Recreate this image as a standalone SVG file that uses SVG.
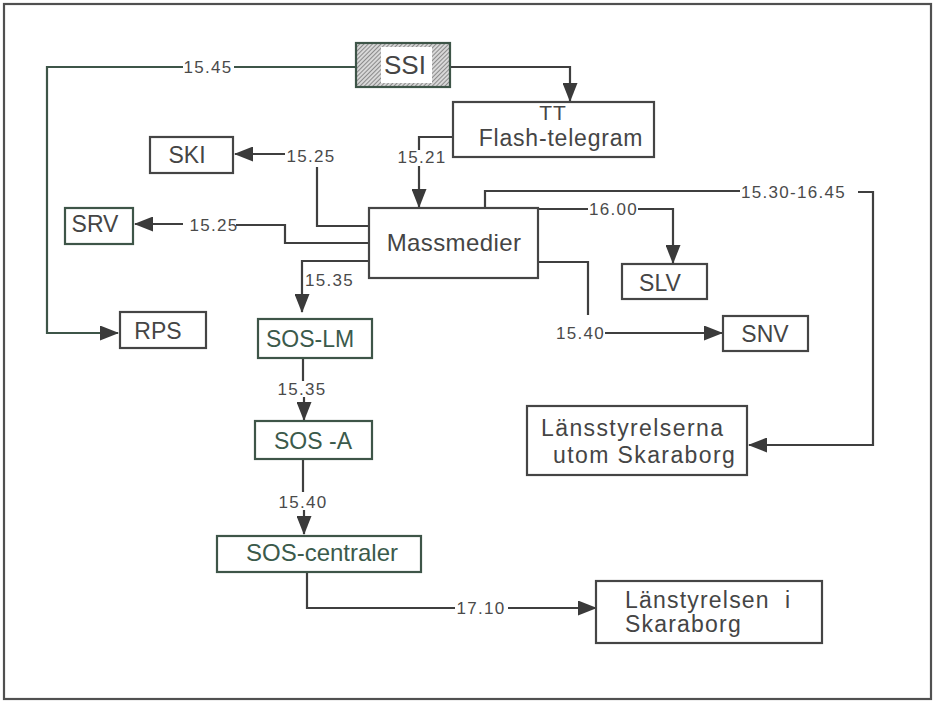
<svg xmlns="http://www.w3.org/2000/svg" width="934" height="702" viewBox="0 0 934 702">
<defs>
<pattern id="hatch" width="3" height="3" patternUnits="userSpaceOnUse" patternTransform="rotate(45)">
<rect width="3" height="3" fill="#d8d8d8"/>
<line x1="0" y1="0" x2="0" y2="3" stroke="#6a6a6a" stroke-width="1.4"/>
</pattern>
<marker id="arr" markerUnits="userSpaceOnUse" markerWidth="19" markerHeight="15" refX="18" refY="7.5" orient="auto">
<path d="M0,0 L19,7.5 L0,15 z" fill="#3a3a3a"/>
</marker>
<style>
.box{fill:#fff;stroke:#454545;stroke-width:2.2}
.gbox{fill:#fff;stroke:#3e5548;stroke-width:2.2}
.t{font-family:"Liberation Sans",Arial,sans-serif;font-size:23px;fill:#454545}
.g{fill:#3b5a4b}
.lbl{font-family:"Liberation Sans",Arial,sans-serif;font-size:17px;letter-spacing:1.3px;fill:#4a4a4a}
.c{fill:none;stroke:#3f3f3f;stroke-width:2.2}
.cg{fill:none;stroke:#3e5548;stroke-width:2.2}
</style>
</defs>
<rect width="934" height="702" fill="#fff"/>
<rect x="4" y="4" width="927" height="695" fill="none" stroke="#505050" stroke-width="2.2"/>

<g id="connectors">
<path class="cg" d="M356,67 H234"/>
<path class="cg" d="M183,67 H47 V333 H118" marker-end="url(#arr)"/>
<text class="lbl g" x="208" y="73" text-anchor="middle">15.45</text>

<path class="c" d="M450,67 H570 V101" marker-end="url(#arr)"/>

<path class="c" d="M453,137 H419 V150"/>
<path class="c" d="M419,166 V207" marker-end="url(#arr)"/>
<text class="lbl" x="422" y="163" text-anchor="middle">15.21</text>

<path class="c" d="M369,226 H317 V167"/>
<path class="c" d="M285,154 H235" marker-end="url(#arr)"/>
<text class="lbl" x="311" y="162" text-anchor="middle">15.25</text>

<path class="c" d="M369,243 H285 V225 H236"/>
<path class="c" d="M183,224 H135" marker-end="url(#arr)"/>
<text class="lbl g" x="214" y="231" text-anchor="middle">15.25</text>

<path class="c" d="M369,261 H302 V312" marker-end="url(#arr)"/>
<text class="lbl" x="305" y="286">15.35</text>

<path class="c" d="M303,358 V381"/>
<path class="c" d="M304,397 V420" marker-end="url(#arr)"/>
<text class="lbl" x="302" y="395" text-anchor="middle">15.35</text>

<path class="c" d="M303,459 V492"/>
<path class="c" d="M304,510 V534" marker-end="url(#arr)"/>
<text class="lbl" x="303" y="508" text-anchor="middle">15.40</text>

<path class="c" d="M307,572 V608 H455"/>
<path class="c" d="M508,608 H596" marker-end="url(#arr)"/>
<text class="lbl" x="481" y="614" text-anchor="middle">17.10</text>

<path class="c" d="M485,208 V191 H740"/>
<path class="c" d="M858,192 H873 V445 H749" marker-end="url(#arr)"/>
<text class="lbl" x="741" y="198">15.30-16.45</text>

<path class="c" d="M538,209 H588"/>
<path class="c" d="M638,209 H673 V263" marker-end="url(#arr)"/>
<text class="lbl" x="589" y="215">16.00</text>

<path class="c" d="M538,262 H588 V315"/>
<path class="c" d="M605,333 H722" marker-end="url(#arr)"/>
<text class="lbl" x="556" y="339">15.40</text>
</g>

<g id="SSI">
<rect x="356" y="43" width="94" height="44" fill="url(#hatch)" stroke="#3e5548" stroke-width="2.2"/>
<rect x="381" y="47" width="51" height="36" fill="#fff"/>
<text class="t" x="405" y="74" text-anchor="middle" style="font-size:26px">SSI</text>
</g>
<g id="TT">
<rect class="box" x="453" y="102" width="201" height="55"/>
<text class="t" x="553" y="120" text-anchor="middle" letter-spacing="1" style="font-size:21px">TT</text>
<text class="t" x="561" y="146" text-anchor="middle" letter-spacing="0.8">Flash-telegram</text>
</g>
<g id="SKI">
<rect class="box" x="150" y="137" width="83" height="36"/>
<text class="t" x="187" y="163" text-anchor="middle">SKI</text>
</g>
<g id="SRV">
<rect class="gbox" x="65" y="208" width="68" height="36"/>
<text class="t" x="95" y="232" text-anchor="middle">SRV</text>
</g>
<g id="Massmedier">
<rect class="box" x="369" y="208" width="169" height="70"/>
<text class="t" x="454" y="251" text-anchor="middle" style="font-size:24px" letter-spacing="0.4">Massmedier</text>
</g>
<g id="RPS">
<rect class="box" x="120" y="312" width="86" height="36"/>
<text class="t" x="158" y="339" text-anchor="middle">RPS</text>
</g>
<g id="SOS-LM">
<rect class="gbox" x="258" y="319" width="114" height="39"/>
<text class="t g" x="310" y="347" text-anchor="middle">SOS-LM</text>
</g>
<g id="SOS-A">
<rect class="gbox" x="255" y="421" width="117" height="38"/>
<text class="t g" x="313" y="449" text-anchor="middle">SOS -A</text>
</g>
<g id="SOS-centraler">
<rect class="gbox" x="217" y="536" width="204" height="36"/>
<text class="t g" x="322" y="561" text-anchor="middle" style="font-size:24px">SOS-centraler</text>
</g>
<g id="SLV">
<rect class="box" x="622" y="264" width="85" height="35"/>
<text class="t" x="660" y="291" text-anchor="middle">SLV</text>
</g>
<g id="SNV">
<rect class="box" x="723" y="316" width="85" height="35"/>
<text class="t" x="765" y="342" text-anchor="middle">SNV</text>
</g>
<g id="Lansstyrelserna">
<rect class="box" x="527" y="406" width="220" height="69"/>
<text class="t" x="541" y="436" letter-spacing="1.4">Länsstyrelserna</text>
<text class="t" x="553" y="463" letter-spacing="1.4">utom Skaraborg</text>
</g>
<g id="Lanstyrelsen">
<rect class="box" x="596" y="581" width="226" height="62"/>
<text class="t" x="625" y="608" letter-spacing="1.2">Länstyrelsen<tspan x="785">i</tspan></text>
<text class="t" x="625" y="632" letter-spacing="1.2">Skaraborg</text>
</g>
</svg>
